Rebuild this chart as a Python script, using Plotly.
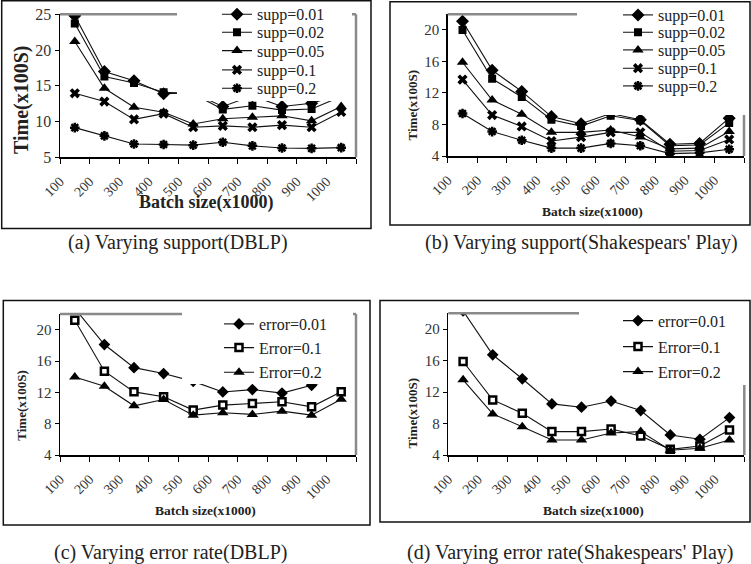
import plotly.graph_objects as go

W, H = 751, 564
FONT = "Liberation Serif"

# ---------------- data ----------------
batch = [100, 200, 300, 400, 500, 600, 700, 800, 900, 1000]
tick_labels = ["100", "200", "300", "400", "500", "600", "700", "800", "900", "1000", ""]

# (a) Varying support (DBLP)
a_names = ["supp=0.01", "supp=0.02", "supp=0.05", "supp=0.1", "supp=0.2"]
a_s001 = [24.8, 17.0, 15.7, 13.9, 14.0, 12.1, 13.6, 12.1, 12.55, 13.8]
a_s002 = [23.7, 16.3, 15.4, 14.1, 13.9, 11.7, 12.2, 11.6, 11.75, 13.5]
a_s005 = [21.2, 14.65, 12.0, 11.3, 9.66, 10.4, 10.6, 10.8, 10.1, 12.1]
a_s01 = [13.95, 12.8, 10.3, 11.1, 9.2, 9.4, 9.2, 9.5, 9.2, 11.35]
a_s02 = [9.15, 8.0, 6.86, 6.8, 6.7, 7.1, 6.6, 6.3, 6.25, 6.35]

# (b) Varying support (Shakespears' Play)
b_names = ["supp=0.01", "supp=0.02", "supp=0.05", "supp=0.1", "supp=0.2"]
b_s001 = [21.1, 14.9, 12.2, 9.0, 8.1, 9.4, 8.6, 5.5, 5.6, 8.8]
b_s002 = [20.0, 13.8, 11.5, 8.6, 7.8, 9.1, 8.5, 5.3, 5.4, 8.2]
b_s005 = [15.9, 11.1, 9.3, 7.0, 7.0, 7.3, 6.4, 4.9, 5.0, 7.1]
b_s01 = [13.7, 9.2, 7.75, 5.9, 6.4, 7.0, 7.0, 4.6, 4.7, 6.1]
b_s02 = [9.4, 7.1, 6.0, 5.0, 5.0, 5.6, 5.3, 4.3, 4.4, 4.85]

# (c) Varying error rate (DBLP)
c_names = ["error=0.01", "Error=0.1", "Error=0.2"]
c_e001 = [22.7, 18.1, 15.15, 14.4, 13.4, 12.05, 12.35, 11.9, 12.9, 13.8]
c_e01 = [21.2, 14.7, 12.06, 11.43, 9.73, 10.37, 10.58, 10.79, 10.15, 12.06]
c_e02 = [13.97, 12.78, 10.28, 11.09, 9.09, 9.39, 9.18, 9.6, 9.09, 11.13]

# (d) Varying error rate (Shakespears' Play)
d_names = ["error=0.01", "Error=0.1", "Error=0.2"]
d_e001 = [22.3, 16.73, 13.68, 10.49, 10.07, 10.85, 9.64, 6.55, 6.0, 8.75]
d_e01 = [15.88, 11.0, 9.3, 6.97, 6.97, 7.31, 6.42, 4.72, 5.15, 7.18]
d_e02 = [13.55, 9.22, 7.6, 5.91, 5.91, 6.8, 6.97, 4.6, 4.85, 5.91]

captions = ["(a) Varying support(DBLP)", "(b) Varying support(Shakespears' Play)",
            "(c) Varying error rate(DBLP)", "(d) Varying error rate(Shakespears' Play)"]

# ---------------- helpers ----------------
def px(x):
    return x / W

def py(y):
    return 1 - y / H

x_pos = [b + 50 for b in batch]  # points sit in the middle of each batch bin

sym_supp = [("diamond", 10, 0), ("square", 8, 0), ("triangle-up", 10, 0),
            ("x", 9, 0), ("asterisk-open", 8, 2.5)]
sym_err = [("diamond", 9, 0), ("square", 7, 2.5), ("triangle-up", 10, 0)]

panels = [
    dict(names=a_names, ys=[a_s001, a_s002, a_s005, a_s01, a_s02], syms=sym_supp,
         dom=(60, 356, 14.3, 157.3), yr=(5, 25), yt=[5, 10, 15, 20, 25],
         leg_y=[14.3, 32.3, 50.7, 70, 88.3], leg_x=257, leg_fs=16,
         cover=(177, 352, 1.5, 101), frame=(1.7, 371, 0.7, 228.5),
         xt=(206, 202, 18), ytit=(21, 100, 20), cap=(178, 242), ytf=16),
    dict(names=b_names, ys=[b_s001, b_s002, b_s005, b_s01, b_s02], syms=sym_supp,
         dom=(447.7, 744, 14.2, 156), yr=(4, 22), yt=[4, 8, 12, 16, 20],
         leg_y=[15, 32.3, 50, 68.3, 86], leg_x=658, leg_fs=16,
         cover=(577, 750, 2, 115), frame=(390, 750, 1.7, 225),
         xt=(592, 211.5, 13.5), ytit=(411.5, 105, 13), cap=(581, 242), ytf=15),
    dict(names=c_names, ys=[c_e001, c_e01, c_e02], syms=sym_err,
         dom=(60, 356, 314, 455), yr=(4, 22), yt=[4, 8, 12, 16, 20],
         leg_y=[324, 347.7, 372.3], leg_x=259, leg_fs=16,
         cover=(182, 353, 301, 384), frame=(3.3, 370, 300.5, 525),
         xt=(205.5, 510.5, 13.5), ytit=(20.7, 405, 13), cap=(170, 552), ytf=15),
    dict(names=d_names, ys=[d_e001, d_e01, d_e02], syms=sym_err,
         dom=(448.3, 744.3, 313.3, 455), yr=(4, 22), yt=[4, 8, 12, 16, 20],
         leg_y=[320.7, 346.7, 371.7], leg_x=658, leg_fs=16,
         cover=(579, 750, 301, 385), frame=(380, 750, 300.5, 522),
         xt=(593, 510, 13.5), ytit=(411.5, 413, 13), cap=(570, 552), ytf=15),
]

fig = go.Figure()
shapes = []
annotations = []
legend_layouts = {}
leg_count = 0

for i, p in enumerate(panels):
    ax = "" if i == 0 else str(i + 1)
    xref = "x" + ax
    yref = "y" + ax
    x0, x1, ytop, ybot = p["dom"]
    fig.layout["xaxis" + ax] = dict(
        domain=[px(x0), px(x1)], range=[100, 1100], anchor=yref, automargin=False,
        tickvals=batch + [1100], ticktext=tick_labels, tickangle=-45,
        ticks="outside", ticklen=5, tickcolor="#000", tickwidth=1, ticklabelstandoff=4,
        showline=True, linecolor="#000", linewidth=1.5, showgrid=False, zeroline=False,
        tickfont=dict(family=FONT, size=14, color="#333"), fixedrange=True)
    fig.layout["yaxis" + ax] = dict(
        domain=[py(ybot), py(ytop)], range=list(p["yr"]), anchor=xref, automargin=False,
        tickvals=p["yt"], ticks="outside", ticklen=4, tickcolor="#000", tickwidth=1,
        showline=True, linecolor="#000", linewidth=1.5, showgrid=False, zeroline=False,
        tickfont=dict(family=FONT, size=p["ytf"], color="#333"), fixedrange=True)

    for k, (name, ys) in enumerate(zip(p["names"], p["ys"])):
        leg_count += 1
        lname = "legend" if leg_count == 1 else "legend%d" % leg_count
        sym, size, lw = p["syms"][k]
        if sym == "square" and lw > 0:
            marker = dict(symbol=sym, size=size, color="#fff", line=dict(color="#000", width=lw))
        elif lw > 0:
            marker = dict(symbol=sym, size=size, color="#000", line=dict(color="#000", width=lw))
        else:
            marker = dict(symbol=sym, size=size, color="#000", line=dict(width=0))
        fig.add_trace(go.Scatter(
            x=x_pos, y=ys, name=name, mode="lines+markers", xaxis=xref, yaxis=yref,
            line=dict(color="#111", width=1.1), marker=marker, legend=lname))
        legend_layouts[lname] = dict(
            x=px(p["leg_x"] - 40), y=py(p["leg_y"][k]), xanchor="left", yanchor="middle",
            bgcolor="rgba(0,0,0,0)", borderwidth=0,
            font=dict(family=FONT, size=p["leg_fs"], color="#222"))

    # gray partial border of plot area (top and right)
    shapes.append(dict(type="line", xref=xref + " domain", yref=yref + " domain",
                       x0=0, x1=1, y0=1, y1=1, line=dict(color="#8a8a8a", width=2.5), layer="above"))
    shapes.append(dict(type="line", xref=xref + " domain", yref=yref + " domain",
                       x0=1, x1=1, y0=0, y1=1, line=dict(color="#8a8a8a", width=2.5), layer="above"))
    # white legend background covering part of plot
    cx0, cx1, cy0, cy1 = p["cover"]
    shapes.append(dict(type="rect", xref="paper", yref="paper",
                       x0=px(cx0), x1=px(cx1), y0=py(cy1), y1=py(cy0),
                       fillcolor="#fff", line=dict(width=0), layer="above"))
    # black frame around chart
    fx0, fx1, fy0, fy1 = p["frame"]
    shapes.append(dict(type="rect", xref="paper", yref="paper",
                       x0=px(fx0), x1=px(fx1), y0=py(fy1), y1=py(fy0),
                       line=dict(color="#111", width=1.5), layer="above"))
    # axis titles
    tx, ty, tfs = p["xt"]
    annotations.append(dict(text="<b>Batch size(x1000)</b>", xref="paper", yref="paper",
                            x=px(tx), y=py(ty), showarrow=False, xanchor="center", yanchor="middle",
                            font=dict(family=FONT, size=tfs, color="#222")))
    yx, yy, yfs = p["ytit"]
    annotations.append(dict(text="<b>Time(x100S)</b>", xref="paper", yref="paper",
                            x=px(yx), y=py(yy), showarrow=False, xanchor="center", yanchor="middle",
                            textangle=-90, font=dict(family=FONT, size=yfs, color="#222")))
    capx, capy = p["cap"]
    annotations.append(dict(text=captions[i], xref="paper", yref="paper",
                            x=px(capx), y=py(capy), showarrow=False, xanchor="center", yanchor="middle",
                            font=dict(family=FONT, size=20, color="#222")))

fig.update_layout(width=W, height=H, margin=dict(l=0, r=0, t=0, b=0, autoexpand=False),
                  paper_bgcolor="#fff", plot_bgcolor="#fff",
                  shapes=shapes, annotations=annotations, showlegend=True)
fig.update_layout(**legend_layouts)

fig.write_html("out.html", config={"displayModeBar": False, "staticPlot": True},
               post_script="document.body.style.margin='0';document.body.style.overflow='hidden';")
